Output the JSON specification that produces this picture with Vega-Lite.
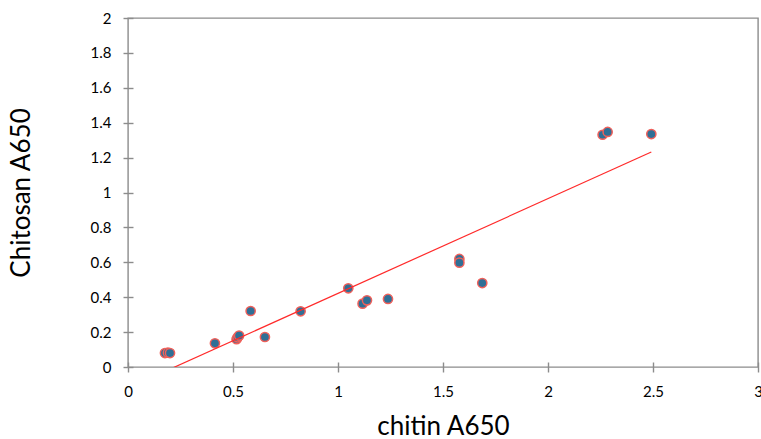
{
  "$schema": "https://vega.github.io/schema/vega-lite/v6.json",
  "width": 630,
  "height": 349,
  "padding": {"left": 128, "top": 18, "right": 3, "bottom": 72},
  "autosize": {"type": "none"},
  "background": "white",
  "config": {
    "view": {"stroke": "#8c8c8c", "strokeWidth": 1.4},
    "font": "Lato",
    "axis": {
      "domain": false,
      "grid": false,
      "tickColor": "#8c8c8c",
      "tickWidth": 1.4,
      "tickSize": 10,
      "offset": -5,
      "labelFont": "Lato",
      "labelFontSize": 15,
      "labelColor": "#000000",
      "titleFont": "Lato",
      "titleFontSize": 26,
      "titleFontWeight": "normal",
      "titleColor": "#000000"
    }
  },
  "data": {
    "values": [
      {"chitin": 0.176, "chitosan": 0.080},
      {"chitin": 0.190, "chitosan": 0.082},
      {"chitin": 0.200, "chitosan": 0.080},
      {"chitin": 0.414, "chitosan": 0.136},
      {"chitin": 0.517, "chitosan": 0.159},
      {"chitin": 0.522, "chitosan": 0.170},
      {"chitin": 0.529, "chitosan": 0.180},
      {"chitin": 0.584, "chitosan": 0.321},
      {"chitin": 0.652, "chitosan": 0.172},
      {"chitin": 0.822, "chitosan": 0.319},
      {"chitin": 1.049, "chitosan": 0.451},
      {"chitin": 1.117, "chitosan": 0.363},
      {"chitin": 1.138, "chitosan": 0.382},
      {"chitin": 1.238, "chitosan": 0.390},
      {"chitin": 1.578, "chitosan": 0.619},
      {"chitin": 1.578, "chitosan": 0.598},
      {"chitin": 1.687, "chitosan": 0.481},
      {"chitin": 2.260, "chitosan": 1.331},
      {"chitin": 2.284, "chitosan": 1.347},
      {"chitin": 2.492, "chitosan": 1.335}
    ]
  },
  "encoding": {
    "x": {
      "field": "chitin",
      "type": "quantitative",
      "scale": {"domain": [0, 3], "nice": false, "zero": false},
      "axis": {"title": "chitin A650", "values": [0, 0.5, 1, 1.5, 2, 2.5, 3], "format": "~g", "labelPadding": 12, "titlePadding": 14, "labelFlush": false}
    },
    "y": {
      "field": "chitosan",
      "type": "quantitative",
      "scale": {"domain": [0, 2], "nice": false, "zero": false},
      "axis": {"title": "Chitosan A650", "values": [0, 0.2, 0.4, 0.6, 0.8, 1, 1.2, 1.4, 1.6, 1.8, 2], "format": "~g", "labelPadding": 12, "titlePadding": 56, "labelFlush": false}
    }
  },
  "layer": [
    {
      "mark": {"type": "circle", "size": 85, "fill": "#2f6f96", "stroke": "#f0605a", "strokeWidth": 1.5, "opacity": 1}
    },
    {
      "transform": [{"regression": "chitosan", "on": "chitin"}],
      "mark": {"type": "line", "color": "#ff2a2a", "strokeWidth": 1.2, "clip": true}
    }
  ]
}
